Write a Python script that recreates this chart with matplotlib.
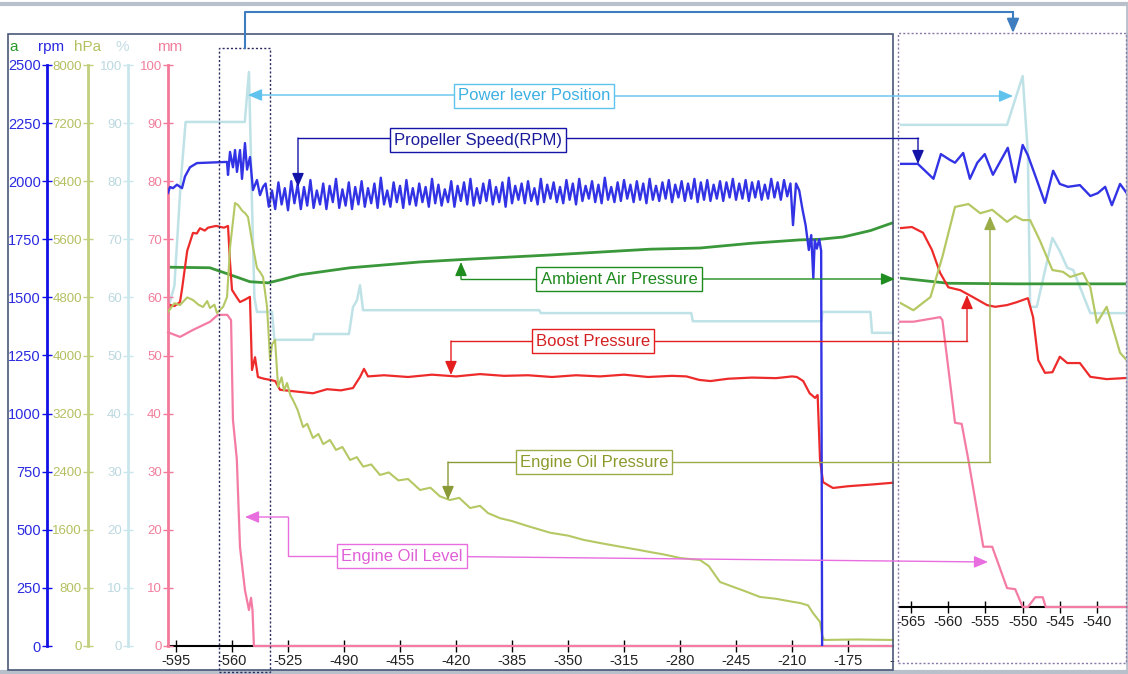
import numpy as np
import matplotlib
matplotlib.use("Agg")
import matplotlib.pyplot as plt
from matplotlib.lines import Line2D
from matplotlib.patches import Rectangle, FancyArrowPatch

plt.rcParams['font.family'] = ['Liberation Sans', 'DejaVu Sans']
plt.rcParams['axes.unicode_minus'] = False

# ---------------- main chart data (time in s) ----------------
# propeller speed, rpm
blue_head_t = [-600, -598.75, -596.9, -594.4, -591.25, -589.4, -586.25, -581.9, -573.75, -563.1,
               -562.5, -561.25, -559.4, -558.1, -556.9, -555, -553.75, -551.9, -550.6, -548.75,
               -546.9, -544.4, -542.5, -540.6]
blue_head_v = [1950, 1975, 1970, 1985, 1970, 2020, 2060, 2078, 2080, 2083,
               2027, 2126, 2060, 2134, 2040, 2134, 2010, 2164, 2050, 2104,
               1962, 2005, 1940, 1976]
blue_osc_v = [1990, 1890, 1960, 1880, 1995, 1900, 1970, 1875, 2000, 1905,
              1985, 1880, 1975, 1895, 2005, 1885, 1960, 1900, 1990, 1880,
              1980, 1910, 2010, 1885, 1965, 1895, 1995, 1880, 1975, 1900,
              2000, 1890, 1970, 1905, 1990, 1885, 2015, 1900, 1960, 1890,
              1995, 1910, 1980, 1885, 2005, 1900, 1970, 1895, 1990, 1910,
              1975, 1890, 2010, 1905, 1985, 1895, 1965, 1910, 2000, 1890,
              1980, 1915, 1995, 1900, 2010, 1895, 1970, 1905, 1990, 1915,
              2005, 1900, 1975, 1910, 1995, 1890, 2015, 1905, 1980, 1920,
              1990, 1905, 2000, 1915, 1970, 1900, 2010, 1910, 1985, 1925,
              1995, 1910, 1975, 1905, 2005, 1920, 1990, 1900, 2010, 1915,
              1980, 1925, 2000, 1910, 1985, 1905, 2015, 1920, 1975, 1910,
              1995, 1915, 2005, 1925, 1985, 1910, 2000, 1920, 1990, 1905,
              2010, 1920, 1980, 1915, 1995, 1925, 2005, 1910, 1985, 1930,
              2000, 1915, 1990, 1925, 2010, 1910, 1995, 1920, 2005, 1915,
              1985, 1925, 2000, 1915, 1995, 1930, 2010, 1920, 1990, 1925,
              2005, 1915, 1995, 1930, 2000, 1920, 1985, 1925, 2010, 1930,
              1995, 1920, 2005, 1935, 1990]
blue_osc_t = np.arange(-539, -210, 2)  # 2 s sampling
blue_tail_t = [-209.4, -207.5, -205.5, -203.5, -201.5, -199.5, -198, -196.7, -195.8, -194.5,
               -193, -191.8, -191.2]
blue_tail_v = [1811, 1990, 1960, 1880, 1810, 1704, 1768, 1583, 1747, 1710,
               1750, 1700, 0]

# boost pressure (its scale is off-screen; read as 0-100 of plot height)
red_t = [-600, -598.8, -596, -592.5, -591.2, -588, -584.4, -582, -580, -577,
         -575, -570, -565, -562.5, -561.2, -560, -557, -555, -552, -550,
         -548.8, -547.5, -545.6, -543.8, -540, -536, -533, -530, -520, -509.4,
         -500.6, -492, -484.4, -480, -477.5, -475, -465, -450, -435, -420,
         -405, -390, -375, -360, -345, -330, -315, -300, -285, -276,
         -268, -261, -250, -235, -220, -210, -207, -203, -199, -195.6,
         -194, -192.5, -190.6, -187, -184.4, -175, -160, -147]
red_v = [57.0, 58.7, 58.5, 59.2, 61.5, 68.0, 71.1, 71.0, 71.9, 71.5,
         72.0, 72.3, 72.0, 72.3, 65.9, 61.3, 60.0, 59.2, 59.6, 59.9,
         60.1, 47.5, 49.7, 46.3, 46.0, 45.8, 45.6, 44.1, 43.8, 43.5,
         44.2, 44.0, 44.4, 46.3, 47.7, 46.4, 46.6, 46.3, 46.7, 46.4,
         46.8, 46.5, 46.6, 46.3, 46.6, 46.4, 46.7, 46.3, 46.5, 46.4,
         45.8, 45.6, 46.0, 46.2, 46.1, 46.4, 46.3, 45.6, 43.5, 42.7,
         43.2, 32.0, 28.2, 27.6, 27.2, 27.5, 27.8, 28.1]

# ambient air pressure (its scale is off-screen; read as 0-100 of plot height)
green_t = [-600, -573.8, -561.2, -548.8, -537.5, -530, -517.5, -486.2, -442.5, -417.5,
           -361.2, -298.8, -267.5, -236.2, -205, -192.5, -178, -161, -147.5]
green_v = [65.2, 65.1, 63.9, 62.7, 62.5, 63.0, 63.9, 65.1, 66.1, 66.5,
           67.3, 68.3, 68.5, 69.3, 69.9, 70.0, 70.4, 71.5, 72.8]

# engine oil pressure, hPa
olive_t = [-600, -596, -592.5, -588, -584.4, -581, -578.1, -575.5, -573.8, -571,
           -569.4, -567, -565.6, -563.1, -561.2, -558.1, -556.2, -553.5, -551.9, -550,
           -546.9, -544.4, -542.5, -540.6, -538.1, -536.2, -535, -533.1, -531.2, -529,
           -527.5, -525.6, -523.5, -521.9, -519, -515.6, -513, -509.4, -506, -503,
           -498.8, -495, -491, -486.2, -482, -478, -473, -467.5, -462, -456,
           -450, -442.5, -436, -430, -423.8, -418, -411.2, -405, -400, -392.5,
           -385, -375, -361.2, -350, -340, -330, -318, -305, -298.8, -290,
           -280, -275, -267.5, -262, -255, -245, -240, -230, -220, -210,
           -205, -200, -196.9, -192.5, -191.2, -190, -170, -147]
olive_v = [4600, 4720, 4695, 4800, 4764, 4700, 4668, 4750, 4654, 4700,
           4585, 4640, 4668, 4806, 5494, 6100, 6072, 5990, 5962, 5907,
           5494, 5205, 5150, 5081, 4668, 3938, 4150, 4214, 3566, 3700,
           3520, 3621, 3450, 3387, 3250, 3015, 3060, 2864, 2920, 2780,
           2837, 2700, 2740, 2561, 2600, 2470, 2500, 2355, 2390, 2280,
           2300, 2148, 2180, 2060, 2010, 2040, 1900, 1930, 1830, 1760,
           1720, 1650, 1560, 1520, 1460, 1418, 1370, 1320, 1294, 1260,
           1212, 1200, 1184, 1100, 881, 800, 760, 675, 650, 610,
           592, 560, 454, 330, 150, 83, 90, 83]

# power lever position, %
lb_t = [-600, -596, -592, -589, -552, -549.4, -547.5, -546, -544.4, -535,
        -533.5, -509.4, -508.8, -486.9, -484.4, -481.9, -480, -478.1, -368, -367,
        -273, -272, -191.5, -191, -161, -160, -147]
lb_v = [58, 62, 80, 90.2, 90.2, 98.8, 76, 60, 57.5, 57.5,
        52.7, 52.7, 53.7, 53.7, 58.3, 59.5, 62.1, 57.8, 57.8, 57.3,
        57.3, 55.9, 55.9, 57.5, 57.5, 53.9, 53.9]

# engine oil level, mm
pk_t = [-600, -592.5, -584.4, -573.8, -568.8, -563, -560.6, -559.4, -557, -555,
        -551.9, -549.4, -548.1, -547.2, -546.3, -147]
pk_v = [54.0, 53.2, 54.4, 55.8, 57.0, 57.0, 56.1, 38.9, 32.2, 17.0,
        9.6, 6.2, 8.3, 6.2, 0, 0]

main_ticks = list(range(-595, -139, 35))

# ---------------- zoomed panel data (each trace auto-scaled, 0-100) ----------------
ins_lb_t = [-566.5, -552.1, -550.0, -549.3, -549.0, -548.1, -546.0, -545.0, -544.0, -543.2, -540.9, -536.0]
ins_lb_v = [84.0, 84.0, 92.5, 79.0, 52.3, 52.3, 64.3, 62.0, 59.1, 58.7, 51.2, 51.2]
ins_blue_t = [-566.5, -564.1, -562.0, -561.0, -559.8, -559.1, -558.0, -557.1, -556.1, -555.1,
              -554.0, -552.0, -551.0, -550.0, -549.3, -548.1, -547.0, -545.9, -545.0, -543.9,
              -542.3, -540.9, -539.9, -538.9, -538.0, -536.9, -536.0]
ins_blue_v = [77.2, 77.2, 74.6, 78.9, 77.9, 77.4, 79.1, 74.6, 77.4, 78.9,
              75.3, 80.0, 74.0, 80.5, 78.7, 74.4, 70.4, 76.0, 73.7, 73.2,
              73.5, 71.6, 72.1, 73.2, 70.0, 73.7, 72.1]
ins_green_t = [-566.5, -560.0, -551.0, -536.0]
ins_green_v = [57.3, 56.4, 56.3, 56.3]
ins_red_t = [-566.5, -564.9, -563.4, -562.2, -561.1, -560.0, -558.4, -556.7, -554.8, -553.7,
             -552.1, -550.8, -549.3, -548.6, -547.9, -547.0, -546.0, -545.0, -544.0, -542.3,
             -540.9, -538.7, -536.0]
ins_red_v = [66.0, 66.2, 65.2, 62.2, 58.2, 55.7, 55.2, 54.0, 52.6, 52.3,
             52.6, 53.1, 53.8, 50.5, 43.0, 40.8, 40.9, 43.6, 42.5, 42.5,
             40.1, 39.7, 39.9]
ins_olive_t = [-566.5, -564.7, -562.4, -560.8, -559.1, -557.3, -555.7, -554.1, -552.1, -551.0,
               -550.0, -549.0, -547.7, -546.0, -544.6, -543.6, -541.9, -540.9, -540.0, -538.7,
               -536.9, -535.8]
ins_olive_v = [53.0, 51.7, 54.0, 61.0, 69.7, 70.2, 68.6, 69.2, 67.1, 68.1,
               67.4, 67.4, 63.9, 58.7, 58.4, 57.5, 58.2, 55.7, 49.5, 52.3,
               44.3, 42.7]
ins_pink_t = [-566.5, -564.7, -561.1, -560.8, -559.8, -559.1, -558.2, -557.3, -555.3, -554.1,
              -552.1, -551.0, -550.0, -549.3, -548.3, -547.3, -546.9, -535.9]
ins_pink_v = [49.7, 49.7, 50.5, 50.0, 39.5, 32.1, 31.9, 25.6, 10.5, 10.5,
              3.3, 3.1, 0, 0, 1.7, 1.7, 0, 0]
ins_ticks = [-565, -560, -555, -550, -545, -540]

# colours
C_BLUE = '#3333e6'
C_RED = '#ee2b2b'
C_GREEN = '#3a983a'
C_OLIVE = '#b4c864'
C_LB = '#bfe2e7'
C_PINK = '#f47ca4'

W, H = 1128, 674


def fx(px):
    return px / W


def fy(py):
    return 1 - py / H


fig = plt.figure(figsize=(11.28, 6.74), dpi=100)

ax_pct = fig.add_axes([fx(168), fy(646), 737 / W, 581 / H])
ax_mm = ax_pct.twinx()
ax_hpa = ax_pct.twinx()
ax_rpm = ax_pct.twinx()


def left_axis(ax, off_px, color, tcolor, top, step, fs):
    ax.set_ylim(0, top)
    ax.yaxis.set_ticks_position('left')
    for s in ['top', 'right', 'bottom']:
        ax.spines[s].set_visible(False)
    ax.spines['left'].set_visible(True)
    ax.spines['left'].set_position(('outward', off_px * 0.72))
    ax.spines['left'].set_color(color)
    ax.spines['left'].set_linewidth(2)
    ax.set_yticks(np.arange(0, top + step / 2, step))
    ax.tick_params(axis='y', colors=color, labelcolor=tcolor, direction='inout',
                   length=7, width=1, pad=1, labelsize=fs)


left_axis(ax_pct, 40, '#c9e6ec', '#bcd8e0', 100, 10, 9.5)
left_axis(ax_mm, 0, '#f27a9a', '#f07f9c', 100, 10, 9.5)
left_axis(ax_hpa, 80, '#c2cf7e', '#b4c060', 8000, 800, 9.5)
left_axis(ax_rpm, 121, '#1010e6', '#2a2ae0', 2500, 250, 10.5)

ax_pct.set_xlim(-600, -139.4)
ax_pct.spines['bottom'].set_visible(True)
ax_pct.spines['bottom'].set_color('black')
ax_pct.spines['bottom'].set_linewidth(1.5)
ax_pct.spines['bottom'].set_bounds(-600, -147)
ax_pct.set_xticks(main_ticks)
ax_pct.tick_params(axis='x', direction='inout', length=8, width=1, labelsize=10.5,
                   pad=2, colors='black', labelcolor='#222222')

ax_pct.plot(lb_t, lb_v, color=C_LB, lw=1.8)
ax_mm.plot(green_t, green_v, color=C_GREEN, lw=2)
ax_mm.plot(red_t, red_v, color=C_RED, lw=1.6)
ax_mm.plot(pk_t, pk_v, color=C_PINK, lw=1.6, zorder=5, clip_on=False)
ax_hpa.plot(olive_t, olive_v, color=C_OLIVE, lw=1.5)
blue_t = blue_head_t + list(blue_osc_t) + blue_tail_t
blue_v = blue_head_v + blue_osc_v + blue_tail_v
ax_rpm.plot(blue_t, blue_v, color=C_BLUE, lw=1.7)

# unit labels above the y axes (the green one is cut by the frame)
unit_kw = dict(ha='center', va='center', fontsize=11)
fig.text(fx(14), fy(47), 'a', color='#2a9a2a', **unit_kw)
fig.text(fx(51), fy(47), 'rpm', color='#2a2ae0', **unit_kw)
fig.text(fx(88), fy(47), 'hPa', color='#b4c060', **unit_kw)
fig.text(fx(122), fy(47), '%', color='#c4dce4', **unit_kw)
fig.text(fx(170), fy(47), 'mm', color='#f07f9c', **unit_kw)

# ---------------- zoomed panel ----------------
fig.add_artist(Rectangle((fx(895), fy(669)), (1126 - 895) / W, (669 - 33) / H,
                         transform=fig.transFigure, fc='white', ec='none', zorder=1))
ax_in = fig.add_axes([fx(900), fy(607), 226 / W, 574 / H], zorder=2)
ax_in.patch.set_alpha(0)
ax_in.set_xlim(-566.5, -536.1)
ax_in.set_ylim(0, 100)
for s in ['top', 'right', 'left']:
    ax_in.spines[s].set_visible(False)
ax_in.spines['bottom'].set_linewidth(1.5)
ax_in.set_yticks([])
ax_in.set_xticks(ins_ticks)
ax_in.tick_params(axis='x', direction='inout', length=8, width=1, labelsize=10.5,
                  pad=2, labelcolor='#222222')
ax_in.plot(ins_lb_t, ins_lb_v, color=C_LB, lw=1.8)
ax_in.plot(ins_green_t, ins_green_v, color=C_GREEN, lw=2)
ax_in.plot(ins_red_t, ins_red_v, color=C_RED, lw=1.6)
ax_in.plot(ins_olive_t, ins_olive_v, color=C_OLIVE, lw=1.6)
ax_in.plot(ins_pink_t, ins_pink_v, color=C_PINK, lw=1.6, zorder=5, clip_on=False)
ax_in.plot(ins_blue_t, ins_blue_v, color=C_BLUE, lw=1.7)


# ---------------- frames ----------------
def frame(x0, y0, x1, y1, **kw):
    fig.add_artist(Rectangle((fx(x0), fy(y1)), (x1 - x0) / W, (y1 - y0) / H,
                             transform=fig.transFigure, fill=False, **kw))


frame(8, 34, 893, 670, ec='#4a5878', lw=1.2, zorder=4)
frame(219, 48, 270, 672, ec='#2a2a60', lw=1, ls=(0, (1.5, 1.5)), zorder=4)
frame(898, 33, 1126, 663, ec='#8a7aa8', lw=1, ls=(0, (1.5, 1.5)), zorder=4)
fig.add_artist(Line2D([0, 1], [fy(4), fy(4)], transform=fig.transFigure, color='#b8c0cc', lw=3))
fig.add_artist(Line2D([0, 1], [fy(672), fy(672)], transform=fig.transFigure, color='#b8c0cc', lw=3))
fig.add_artist(Line2D([fx(1127), fx(1127)], [fy(4), fy(672)], transform=fig.transFigure,
                      color='#b8c0cc', lw=2))


# ---------------- callouts ----------------
def connector(pts, color, lw=1.0):
    xs = [fx(p[0]) for p in pts]
    ys = [fy(p[1]) for p in pts]
    if len(pts) > 2:
        fig.add_artist(Line2D(xs[:-1], ys[:-1], transform=fig.transFigure,
                              color=color, lw=lw, zorder=5))
    fig.add_artist(FancyArrowPatch((xs[-2], ys[-2]), (xs[-1], ys[-1]),
                                   transform=fig.transFigure,
                                   arrowstyle='-|>,head_length=0.7,head_width=0.3',
                                   mutation_scale=12, color=color, lw=lw,
                                   shrinkA=0, shrinkB=0, zorder=5))


def label(x, y, text, color, ec):
    fig.text(fx(x), fy(y), text, color=color, ha='center', va='center', fontsize=12,
             zorder=6, bbox=dict(boxstyle='square,pad=0.25', fc='white', ec=ec, lw=1))


connector([(245, 48), (245, 12), (1013, 12), (1013, 33)], '#3d7dc0', lw=1.5)

connector([(534, 95), (248, 95)], '#5fc3ee')
connector([(534, 96), (1013, 96)], '#5fc3ee')
label(534, 96, 'Power lever Position', '#3db0e3', '#5fc3ee')

connector([(478, 138), (298, 138), (298, 187)], '#1414a8')
connector([(478, 138), (918, 138), (918, 164)], '#1414a8')
label(478, 140, 'Propeller Speed(RPM)', '#1a1a9a', '#1414a8')

connector([(619, 279), (461, 279), (461, 262)], '#1e8c1e')
connector([(619, 279), (895, 279)], '#1e8c1e')
label(619, 279, 'Ambient Air Pressure', '#1e8a1e', '#1e8c1e')

connector([(593, 341), (451, 341), (451, 375)], '#e41e1e')
connector([(593, 341), (967, 341), (967, 295)], '#e41e1e')
label(593, 341, 'Boost Pressure', '#d42020', '#e41e1e')

connector([(594, 462), (448, 462), (448, 500)], '#8a9a36')
connector([(594, 462), (990, 462), (990, 216)], '#9aac48')
label(594, 462, 'Engine Oil Pressure', '#8c9a2c', '#9aac48')

connector([(402, 556), (288, 556), (288, 517), (245, 517)], '#e86ee0')
connector([(402, 556), (988, 562)], '#e86ee0')
label(402, 556, 'Engine Oil Level', '#e060d8', '#e86ee0')

fig.savefig('out.png', dpi=100)
